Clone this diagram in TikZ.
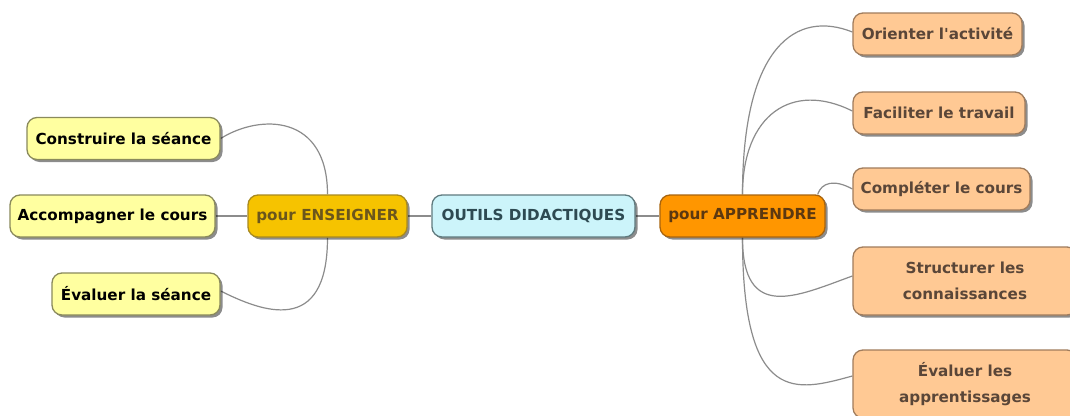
\documentclass[tikz,border=0pt]{standalone}
\usepackage{fontspec}
\setmainfont{DejaVu Sans}
\usetikzlibrary{shadows,backgrounds}
\definecolor{lyfill}{HTML}{FFFFA0}
\definecolor{lyline}{HTML}{8A8A5C}
\definecolor{gold}{HTML}{F6C300}
\definecolor{goldline}{HTML}{A88A20}
\definecolor{goldtext}{HTML}{6B561C}
\definecolor{cyfill}{HTML}{CCF4FA}
\definecolor{cyline}{HTML}{5F7A7E}
\definecolor{cytext}{HTML}{2E4A52}
\definecolor{orfill}{HTML}{FF9600}
\definecolor{orline}{HTML}{A8640E}
\definecolor{ortext}{HTML}{5C3810}
\definecolor{pcfill}{HTML}{FFC994}
\definecolor{pcline}{HTML}{A07C5C}
\definecolor{pctext}{HTML}{5A4638}
\definecolor{conn}{HTML}{8C8C8C}
\tikzset{
  box/.style={draw, rounded corners=10pt, line width=1.3pt, inner sep=0pt,
    minimum height=42pt, align=center,
    font=\bfseries\fontsize{15.2}{26}\selectfont,
    drop shadow={shadow xshift=2.5pt, shadow yshift=-2.5pt, fill=black, opacity=.45}},
  leftleaf/.style={box, fill=lyfill, draw=lyline, text=black},
  ensbox/.style={box, fill=gold, draw=goldline, text=goldtext},
  rootbox/.style={box, fill=cyfill, draw=cyline, text=cytext},
  appbox/.style={box, fill=orfill, draw=orline, text=ortext},
  rightleaf/.style={box, fill=pcfill, draw=pcline, text=pctext},
  link/.style={draw=conn, line width=1.2pt}
}
\begin{document}
\begin{tikzpicture}[x=1pt,y=-1pt]
\useasboundingbox (0,0) rectangle (1070,415);
\clip (0,0) rectangle (1070,415);
% left leaves
\node[leftleaf, minimum width=193pt] (con) at (123.5,138.5) {Construire la séance};
\node[leftleaf, minimum width=205pt] (acc) at (112.5,216) {Accompagner le cours};
\node[leftleaf, minimum width=168pt] (evs) at (136,294) {Évaluer la séance};
% middle
\node[ensbox, minimum width=159pt] (ens) at (327.5,216) {pour ENSEIGNER};
\node[rootbox, minimum width=203pt] (out) at (533.5,216) {OUTILS DIDACTIQUES};
\node[appbox, minimum width=165pt] (app) at (742.5,216) {pour APPRENDRE};
% right leaves
\node[rightleaf, minimum width=169pt] (ori) at (937.5,34) {Orienter l\textquotesingle activité};
\node[rightleaf, minimum width=172pt] (fac) at (939,113) {Faciliter le travail};
\node[rightleaf, minimum width=177pt] (com) at (941.5,189) {Compléter le cours};
\node[rightleaf, minimum width=224pt, minimum height=68pt] (str) at (965,281) {Structurer les\\connaissances};
\node[rightleaf, minimum width=224pt, minimum height=68pt] (eva) at (965,384) {Évaluer les\\apprentissages};
\begin{scope}[on background layer]
\fill[white] (0,0) rectangle (1070,415);
\draw[link] (ens.north) .. controls +(0,-80) and +(40,-25) .. (con.east);
\draw[link] (acc.east) -- (ens.west);
\draw[link] (ens.south) .. controls +(0,100) and +(40,20) .. ([yshift=3pt]evs.east);
\draw[link] (ens.east) -- (out.west);
\draw[link] (out.east) -- (app.west);
\draw[link] (app.north) .. controls +(0,-150) and +(-55,-22) .. ([yshift=2pt]ori.west);
\draw[link] (app.north) .. controls +(0,-80) and +(-60,-30) .. ([yshift=2pt]fac.west);
\draw[link] ([xshift=-8pt]app.north east) .. controls +(4,-12) and +(-18,-10) .. (com.west);
\draw[link] (app.south) .. controls +(0,85) and +(-55,20) .. ([yshift=5pt]str.west);
\draw[link] (app.south) .. controls +(0,170) and +(-55,15) .. ([yshift=8pt]eva.west);
\end{scope}
\end{tikzpicture}
\end{document}
